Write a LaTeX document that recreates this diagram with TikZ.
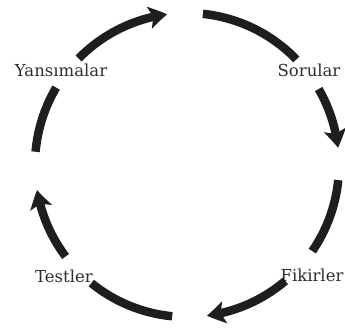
\documentclass[tikz,border=0pt]{standalone}
\usepackage{fontspec}
\setmainfont{DejaVu Serif}
\usetikzlibrary{arrows.meta,bending}
\definecolor{arcc}{HTML}{1E1E1E}
\definecolor{txtc}{HTML}{2E2E2E}
\tikzset{
  arcseg/.style={draw=arcc, line width=8.5pt},
  arcarrow/.style={arcseg, -{Stealth[length=18pt,width=22pt,inset=4pt,bend]}},
  lbl/.style={font=\fontsize{16.5}{19}\selectfont, text=txtc, inner sep=0pt}
}
\begin{document}
\begin{tikzpicture}[x=1pt,y=1pt]
\useasboundingbox (0,0) rectangle (345,330);
\coordinate (c) at (187,165);
\def\R{152}
% labels
\node[lbl] (yans) at (61,260) {Yansımalar};
\node[lbl] (sor) at (309,260) {Sorular};
\node[lbl] (test) at (64,54) {Testler};
\node[lbl] (fik) at (312,55) {Fikirler};
% top
\draw[arcarrow] (c) ++(135.5:\R) arc[start angle=135.5, end angle=97.5, radius=\R];
\draw[arcseg] (c) ++(84:\R) arc[start angle=84, end angle=44, radius=\R];
% right
\draw[arcarrow] (c) ++(30:\R) arc[start angle=30, end angle=6.5, radius=\R];
\draw[arcseg] (c) ++(-5.7:\R) arc[start angle=-5.7, end angle=-34.5, radius=\R];
% bottom
\draw[arcarrow] (c) ++(-49.7:\R) arc[start angle=-49.7, end angle=-82.5, radius=\R];
\draw[arcseg] (c) ++(-95.6:\R) arc[start angle=-95.6, end angle=-129, radius=\R];
% left
\draw[arcarrow] (c) ++(-143:\R) arc[start angle=-143, end angle=-170.5, radius=\R];
\draw[arcseg] (c) ++(175:\R) arc[start angle=175, end angle=149.4, radius=\R];
\end{tikzpicture}
\end{document}
